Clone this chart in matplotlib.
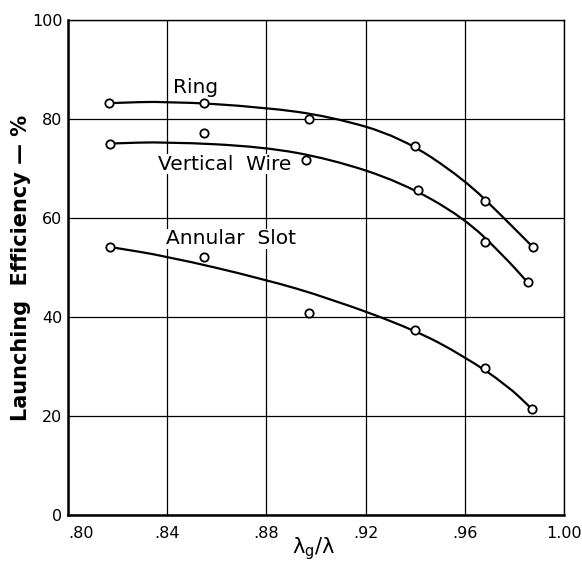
import matplotlib
matplotlib.use("Agg")
import matplotlib.pyplot as plt
from matplotlib.path import Path
from matplotlib.patches import PathPatch

# measured points (circles)
ring_x = [0.8166, 0.855, 0.897, 0.940, 0.968, 0.9875]
ring_y = [83.2, 83.2, 80.0, 74.5, 63.4, 54.1]
wire_x = [0.817, 0.855, 0.896, 0.941, 0.968, 0.9855]
wire_y = [75.0, 77.1, 71.8, 65.7, 55.2, 47.0]
slot_x = [0.817, 0.855, 0.897, 0.940, 0.968, 0.987]
slot_y = [54.1, 52.1, 40.8, 37.4, 29.7, 21.4]

# hand-drawn curves
ring_cx = [0.8166, 0.840, 0.8788, 0.9059, 0.9341, 0.9596, 0.9758, 0.9875]
ring_cy = [83.2, 83.6, 82.4, 80.5, 76.4, 67.9, 60.0, 54.1]
wire_cx = [0.8174, 0.8396, 0.8788, 0.9059, 0.9341, 0.9596, 0.9758, 0.9855]
wire_cy = [75.05, 75.4, 74.4, 71.9, 67.3, 60.1, 52.3, 46.9]
slot_cx = [0.8174, 0.8396, 0.8788, 0.9059, 0.9398, 0.9596, 0.9771, 0.9871]
slot_cy = [54.1, 52.3, 47.7, 43.7, 37.4, 32.1, 26.2, 21.4]

xticks = [0.80, 0.84, 0.88, 0.92, 0.96, 1.00]
xticklabels = [".80", ".84", ".88", ".92", ".96", "1.00"]
yticks = [0, 20, 40, 60, 80, 100]
yticklabels = ["0", "20", "40", "60", "80", "100"]


def smooth_path(xs, ys):
    """Quadratic-Bezier path through the read curve points (rendering only)."""
    pts = list(zip(xs, ys))
    verts = [pts[0]]
    codes = [Path.MOVETO]
    mid = lambda a, b: ((a[0] + b[0]) / 2, (a[1] + b[1]) / 2)
    verts.append(mid(pts[0], pts[1]))
    codes.append(Path.LINETO)
    for i in range(1, len(pts) - 1):
        verts += [pts[i], mid(pts[i], pts[i + 1])]
        codes += [Path.CURVE3, Path.CURVE3]
    verts.append(pts[-1])
    codes.append(Path.LINETO)
    return Path(verts, codes)


fig = plt.figure(figsize=(5.82, 5.61), dpi=100)
ax = fig.add_axes([68/582, 1-515/561, (564-68)/582, (515-20)/561])
ax.set_xlim(0.80, 1.00)
ax.set_ylim(0, 100)

ax.set_xticks(xticks)
ax.set_xticklabels(xticklabels)
ax.set_yticks(yticks)
ax.set_yticklabels(yticklabels)
ax.tick_params(length=0, labelsize=11.5, colors="black")
ax.tick_params(axis="x", pad=8)
ax.tick_params(axis="y", pad=4)
ax.get_xticklabels()[0].set_horizontalalignment("left")

ax.grid(True, color="black", linewidth=0.9)
ax.set_axisbelow(True)
for side in ["top", "right"]:
    ax.spines[side].set_linewidth(1.0)
for side in ["left", "bottom"]:
    ax.spines[side].set_linewidth(1.8)

for cx, cy in [(ring_cx, ring_cy), (wire_cx, wire_cy), (slot_cx, slot_cy)]:
    patch = PathPatch(smooth_path(cx, cy), facecolor="none", edgecolor="black",
                      linewidth=1.6, capstyle="round", joinstyle="round",
                      transform=ax.transData, zorder=3)
    ax.add_patch(patch)
for px, py in [(ring_x, ring_y), (wire_x, wire_y), (slot_x, slot_y)]:
    ax.plot(px, py, linestyle="none", marker="o", markersize=6, markerfacecolor="white",
            markeredgecolor="black", markeredgewidth=1.3, zorder=4)

ax.text(0.8513, 86.3, "Ring", fontsize=14.5, ha="center", va="center", zorder=5)
ax.text(0.8632, 70.9, "Vertical  Wire", fontsize=14.5, ha="center", va="center", zorder=5,
        bbox=dict(facecolor="white", edgecolor="none", pad=0.5))
ax.text(0.8659, 55.8, "Annular  Slot", fontsize=14.5, ha="center", va="center", zorder=5,
        bbox=dict(facecolor="white", edgecolor="none", pad=0.5))

fig.text(21/582, 1-268/561, "Launching  Efficiency — %", rotation=90, fontsize=15,
         fontweight="bold", ha="center", va="center")
fig.text(314/582, 1-549/561, r"λ$_{\mathrm{g}}$/λ", fontsize=15, ha="center", va="center")

fig.savefig("out.png", dpi=100, facecolor="white")
